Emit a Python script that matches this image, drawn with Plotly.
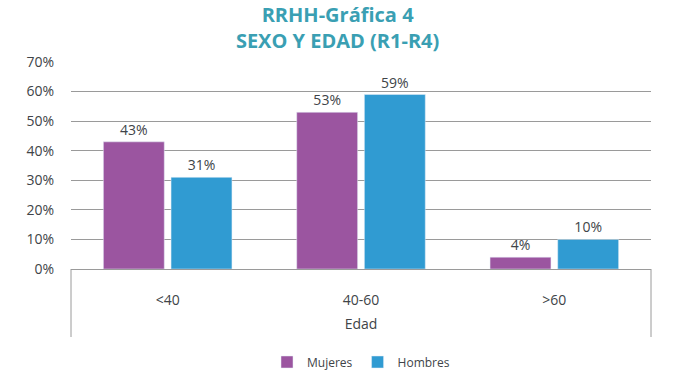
import plotly.graph_objects as go

categories = ["<40", "40-60", ">60"]
mujeres = [43, 53, 4]
hombres = [31, 59, 10]
y_ticks = [0, 10, 20, 30, 40, 50, 60, 70]
y_tick_labels = [f"{v}%" for v in y_ticks]

PURPLE = "#9B55A0"
BLUE = "#309BD2"
TEXT = "#404448"
GRID = "#9a9a9a"

fig = go.Figure()
fig.add_trace(go.Bar(
    name="Mujeres", x=categories, y=mujeres, marker_color=PURPLE,
    text=[f"{v}%" for v in mujeres], textposition="outside", cliponaxis=False,
    textfont=dict(size=14, color=TEXT),
))
fig.add_trace(go.Bar(
    name="Hombres", x=categories, y=hombres, marker_color=BLUE,
    text=[f"{v}%" for v in hombres], textposition="outside", cliponaxis=False,
    textfont=dict(size=14, color=TEXT),
))

fig.update_layout(
    width=689, height=378,
    margin=dict(l=71, r=38, t=62, b=109, autoexpand=False),
    paper_bgcolor="white", plot_bgcolor="white",
    font=dict(family="Open Sans, DejaVu Sans, sans-serif", color=TEXT, size=14),
    title=dict(
        text="<b>RRHH-Gráfica 4<br>SEXO Y EDAD (R1-R4)</b>",
        x=0.49, xanchor="center", y=1 - 22 / 378, yanchor="middle",
        font=dict(family="Open Sans, sans-serif", size=20, color="#3A9FB3"),
    ),
    barmode="group", bargap=0.30, bargroupgap=0.1,
    showlegend=True,
    legend=dict(
        orientation="h", x=0.5, xanchor="center",
        yref="container", y=16 / 378, yanchor="middle",
        font=dict(size=12, color=TEXT), traceorder="normal",
    ),
    xaxis=dict(
        automargin=False,
        showline=True, linecolor=GRID, linewidth=1,
        ticks="outside", ticklen=18, tickcolor="rgba(0,0,0,0)",
        tickfont=dict(size=14, color=TEXT),
        title=dict(text="Edad", font=dict(size=14, color=TEXT), standoff=11),
    ),
    yaxis=dict(
        automargin=False,
        range=[0, 70], tickvals=y_ticks, ticktext=y_tick_labels,
        showgrid=True, gridcolor=GRID, gridwidth=1, zeroline=False,
        ticks="outside", ticklen=13, tickcolor="rgba(0,0,0,0)",
        tickfont=dict(size=14, color=TEXT),
    ),
)

for xp in (0, 1):
    fig.add_shape(type="line", xref="paper", yref="paper",
                  x0=xp, x1=xp, y0=0, y1=-68 / 207,
                  line=dict(color=GRID, width=1))

fig.write_html(
    "out.html",
    config={"displayModeBar": False},
    post_script="document.body.style.margin='0';document.body.style.overflow='hidden';",
)
